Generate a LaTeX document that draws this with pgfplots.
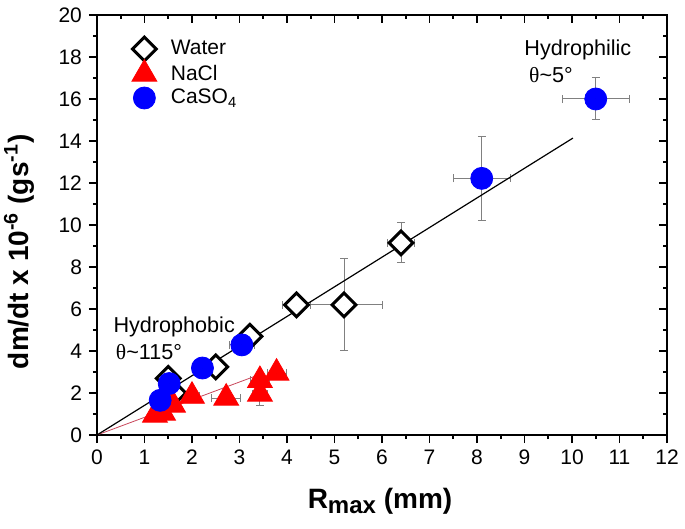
\documentclass[border=0pt]{standalone}
\usepackage{fontspec}
\setmainfont{Liberation Sans}
\newfontfamily\serifgr{Liberation Serif}
\usepackage{pgfplots}
\usepackage{pgfplotstable}
\pgfplotsset{compat=1.18}
\usetikzlibrary{calc}

\pgfplotstableread{
x y ex ey
1.62 2.00 0.10 0.20
1.50 2.70 0.10 0.20
2.50 3.24 0.15 0.20
3.22 4.70 0.15 0.20
4.20 6.20 0.30 0.10
5.20 6.20 0.80 2.20
6.40 9.15 0.28 0.95
}\water

\pgfplotstableread{
x y ex ey
1.22 0.95 0.10 0.30
1.39 1.05 0.10 0.30
1.60 1.43 0.10 0.20
2.00 1.85 0.15 0.20
2.72 1.76 0.30 0.20
3.43 1.95 0.15 0.55
3.43 2.60 0.20 0.20
3.78 2.95 0.20 0.20
}\nacl

\pgfplotstableread{
x y ex ey
1.33 1.65 0.10 0.20
1.52 2.45 0.10 0.20
2.22 3.19 0.15 0.15
3.05 4.29 0.26 0.20
8.10 12.22 0.60 2.00
10.50 16.00 0.70 1.00
}\caso

\begin{document}
\begin{tikzpicture}
% mirrored axis: ticks inside on top and right
\begin{axis}[
  width=285pt, height=210pt, scale only axis,
  xmin=0, xmax=12, ymin=0, ymax=20,
  xtick={0,...,12}, minor x tick num=1,
  ytick={0,2,...,20}, minor y tick num=1,
  xtick pos=right, ytick pos=right, tick align=inside,
  xticklabels={}, yticklabels={},
  major tick length=4pt, minor tick length=2pt,
  axis line style={line width=1pt},
  every tick/.style={black, line width=0.8pt},
]
\end{axis}
\begin{axis}[
  name=main,
  width=285pt, height=210pt, scale only axis,
  xmin=0, xmax=12, ymin=0, ymax=20,
  xtick={0,...,12}, minor x tick num=1,
  ytick={0,2,...,20}, minor y tick num=1,
  xtick pos=left, ytick pos=left, tick align=outside,
  major tick length=4pt, minor tick length=2pt,
  axis line style={line width=1pt},
  every tick/.style={black, line width=0.8pt},
  tick label style={font=\fontsize{10.5}{12}\selectfont},
  /pgf/number format/assume math mode=true,
  xlabel={\bfseries R\raisebox{-0.35ex}{\fontsize{12}{12}\selectfont max} (mm)},
  ylabel={\bfseries dm/dt x 10\textsuperscript{-6} (gs\textsuperscript{-1})},
  xlabel style={font=\fontsize{14}{16}\selectfont, at={(axis description cs:0.4965,-0.174)}, anchor=base},
  ylabel style={font=\fontsize{14}{16}\selectfont, at={(axis description cs:-0.121,0.436)}, anchor=base},
  legend style={draw=none, fill=none, at={(axis cs:0.6,19.2)}, anchor=north west,
    font=\fontsize{10.5}{12}\selectfont, row sep=-1pt},
  legend cell align=left,
]
\addplot[only marks, mark=square*, mark size=4.2pt,
  mark options={rotate=45, line width=1.5pt, draw=black, fill=white}] table[x=x,y=y] {\water};
\addlegendentry{\hspace{5pt}Water}
\addplot[only marks, mark=triangle*, mark size=7.2pt,
  mark options={draw=red, fill=red}] table[x=x,y=y] {\nacl};
\addlegendentry{\hspace{5pt}NaCl}
\addplot[only marks, mark=*, mark size=5.5pt,
  mark options={draw=blue, fill=blue}] table[x=x,y=y] {\caso};
\addlegendentry{\hspace{5pt}CaSO\textsubscript{4}}

\pgfplotsset{errset/.style={only marks, mark=*, mark size=0pt, forget plot,
  error bars/.cd, x dir=both, x explicit, y dir=both, y explicit,
  error mark=-,
  error bar style={draw=gray, line width=0.5pt},
  error mark options={rotate=90, draw=gray, mark size=2pt, line width=0.5pt}}}
\addplot[errset] table[x=x,y=y,x error=ex,y error=ey] {\water};
\addplot[errset] table[x=x,y=y,x error=ex,y error=ey] {\nacl};
\addplot[errset] table[x=x,y=y,x error=ex,y error=ey] {\caso};

\addplot[forget plot, color={rgb,255:red,200;green,70;blue,90}, line width=0.4pt] coordinates {(0,0) (3.4,2.86)};
\addplot[forget plot, black, line width=0.6pt] coordinates {(0,0) (10.02,14.14)};

\node[anchor=west, font=\fontsize{10.8}{12}\selectfont] at (axis cs:0.2,5.14) {Hydrophobic};
\node[anchor=west, font=\fontsize{10.8}{12}\selectfont] at (axis cs:0.25,3.95) {{\serifgr θ}\textasciitilde115°};
\node[anchor=west, font=\fontsize{10.8}{12}\selectfont] at (axis cs:8.85,18.33) {Hydrophilic};
\node[anchor=west, font=\fontsize{10.8}{12}\selectfont] at (axis cs:8.95,17.14) {{\serifgr θ}\textasciitilde5°};
\end{axis}
\pgfresetboundingbox
\path ($(main.south west)+(-48.5pt,-47pt)$) rectangle ($(main.north east)+(9pt,7.5pt)$);
\end{tikzpicture}
\end{document}
